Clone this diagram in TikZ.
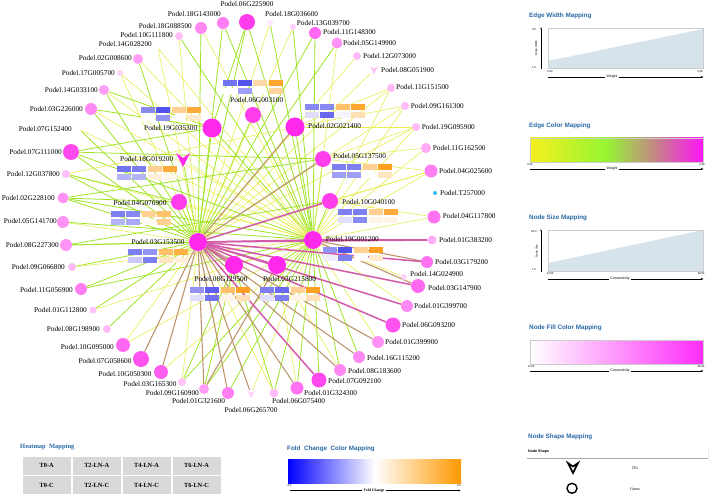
\documentclass[tikz,border=0pt]{standalone}
\usepackage{fontspec}
\setmainfont{Liberation Serif}
\newfontfamily\lsans{Liberation Sans}
\usetikzlibrary{arrows.meta}
\pgfdeclarelayer{bg}
\pgfsetlayers{bg,main}
\definecolor{pmag}{RGB}{255,40,235}
\definecolor{eY}{RGB}{232,238,80}
\definecolor{eG}{RGB}{160,228,40}
\definecolor{eB}{RGB}{190,150,110}
\definecolor{eM}{RGB}{212,90,170}
\definecolor{ttl}{RGB}{40,105,165}
\definecolor{hb}{RGB}{40,40,235}
\definecolor{ho}{RGB}{255,150,10}
\definecolor{chartfill}{RGB}{214,227,234}
\definecolor{cmY}{RGB}{245,240,30}
\definecolor{cmG}{RGB}{150,245,50}
\definecolor{cmB}{RGB}{195,135,135}
\definecolor{cmM}{RGB}{255,20,245}
\definecolor{fcB}{RGB}{0,0,255}
\definecolor{fcO}{RGB}{255,153,0}
\definecolor{nfM}{RGB}{255,45,250}
\pgfdeclarehorizontalshading{ecmap}{100bp}{color(0bp)=(cmY);color(25bp)=(cmY);color(47bp)=(cmG);color(61bp)=(cmB);color(75bp)=(cmM);color(100bp)=(cmM)}
\pgfdeclarehorizontalshading{fcmap}{100bp}{color(0bp)=(fcB);color(25bp)=(fcB);color(50bp)=(white);color(75bp)=(fcO);color(100bp)=(fcO)}
\pgfdeclarehorizontalshading{nfmap}{100bp}{color(0bp)=(white);color(25bp)=(white);color(75bp)=(nfM);color(100bp)=(nfM)}
\tikzset{
  gnd/.style={circle,inner sep=0pt},
  lbl/.style={inner sep=0pt,font=\fontsize{7.3}{8}\selectfont},
  ey/.style={eY,line width=0.6pt},
  eg/.style={eG,line width=0.8pt},
  eb/.style={eB,line width=1.1pt},
  em/.style={eM,line width=1.5pt},
  ttlsty/.style={inner sep=0pt,anchor=west,text=ttl,font=\lsans\bfseries\fontsize{6.3}{7}\selectfont},
  tiny/.style={inner sep=0pt,font=\lsans\fontsize{2.8}{3}\selectfont},
  axlbl/.style={inner sep=1pt,fill=white,font=\lsans\fontsize{3.5}{4}\selectfont},
  cell/.style={fill=black!15,inner sep=0pt,minimum width=48pt,minimum height=18pt,font=\bfseries\fontsize{6.3}{7}\selectfont}
}
\newcommand\netnode[5]{\node[gnd,minimum size=#4*2pt,fill=pmag!#5!white] (n#1) at (#2,#3) {};}
\newcommand\labW[3]{\node[lbl,anchor=west] (l#1) at (#2,#3) {Podel.#1};}
\newcommand\labE[3]{\node[lbl,anchor=east] (l#1) at (#2,#3) {Podel.#1};}
\newcommand\labC[3]{\node[lbl] (l#1) at (#2,#3) {Podel.#1};}
\newcommand\tfnode[5]{\node[inner sep=0pt,minimum size=#4*2pt] (n#1) at (#2,#3) {};
  \fill[#5] (n#1.center) ++(-#4,-#4) -- ++(#4,0.7*#4) -- ++(#4,-0.7*#4) -- ++(-#4,2*#4) -- cycle;}
\newcommand\hmap[3]{%
  \foreach \cc [count=\ii from 0] in {#3} {%
    \pgfmathsetmacro\hx{#1+mod(\ii,4)*15.3}%
    \pgfmathsetmacro\hy{#2+int(\ii/4)*7.6}%
    \fill[fill=\cc] (\hx,\hy) rectangle ++(14,6.3);}}
\begin{document}
\begin{tikzpicture}[x=1pt,y=-1pt]
\useasboundingbox (0,0) rectangle (709,497);
% ---------------- network nodes
\netnode{06G225900}{247}{22}{8}{90}
\netnode{18G143000}{223}{23}{6}{60}
\netnode{18G088500}{201}{28}{6}{55}
\netnode{10G111800}{179}{36}{4}{30}
\netnode{14G028200}{158}{48}{1.2}{3}
\netnode{02G008600}{138}{59}{5}{45}
\netnode{17G005700}{120}{73}{3}{22}
\netnode{14G033100}{104}{90}{5}{45}
\netnode{03G226000}{91}{109}{6}{55}
\netnode{07G152400}{80}{130}{1.2}{3}
\netnode{07G111000}{71}{152}{8}{85}
\netnode{12G037800}{66}{174}{4}{30}
\netnode{02G228100}{63}{198}{5.5}{50}
\netnode{05G141700}{63}{222}{6}{50}
\netnode{08G227300}{66}{245}{6}{50}
\netnode{09G066800}{72}{267}{4}{32}
\netnode{11G056900}{81}{289}{6}{60}
\netnode{01G112800}{93}{310}{3.5}{28}
\netnode{08G198900}{107}{329}{4}{32}
\netnode{10G095000}{123}{345}{7}{70}
\netnode{07G058600}{141}{359}{8}{80}
\netnode{10G050300}{161}{372}{7}{75}
\netnode{03G165300}{182}{382}{4}{28}
\netnode{09G160900}{204}{389}{5}{45}
\netnode{01G321600}{228}{393}{6}{60}
\netnode{06G075400}{274}{393}{4.5}{30}
\netnode{01G324300}{297}{388}{6.5}{65}
\netnode{07G092100}{319}{380}{7.5}{85}
\netnode{08G183600}{340}{370}{6}{55}
\netnode{16G115200}{359}{357}{6}{55}
\netnode{01G399900}{378}{342}{6}{50}
\netnode{06G093200}{393}{325}{7.5}{80}
\netnode{01G399700}{407}{306}{6}{55}
\netnode{03G147900}{418}{286}{7}{70}
\netnode{14G024900}{404}{277}{3}{20}
\netnode{03G179200}{427}{262}{6}{65}
\netnode{01G383200}{432}{240}{4.5}{38}
\netnode{04G117800}{434}{217}{6.5}{65}
\node[gnd,minimum size=4pt,fill=cyan!80!white] (nT257000) at (435,193) {};
\netnode{04G025600}{431}{171}{6.5}{60}
\netnode{11G162500}{426}{148}{5}{40}
\netnode{19G095900}{416}{127}{4}{32}
\netnode{09G161300}{405}{106}{4}{32}
\netnode{11G151500}{391}{88}{4}{32}
\netnode{12G073000}{357}{56}{4}{32}
\netnode{05G149900}{337}{43}{5.5}{50}
\netnode{11G148300}{315}{33}{6}{70}
\netnode{13G039700}{293}{27}{3}{22}
\netnode{18G036600}{270}{23}{3}{12}
% hubs
\netnode{19G035300}{212}{128}{9.5}{100}
\netnode{06G003100}{253}{115}{8}{90}
\netnode{02G021400}{295}{127}{9.5}{100}
\netnode{04G076900}{179}{202}{8}{90}
\netnode{03G153500}{198}{242}{9}{100}
\netnode{05G137500}{323}{159}{8}{90}
\netnode{10G040100}{330}{201}{8}{90}
\netnode{19G001200}{313}{240}{9}{100}
\netnode{08G129500}{234}{265}{9}{100}
\netnode{03G215800}{277}{265}{9}{100}
\tfnode{18G019200}{183}{160}{7}{pmag}
\tfnode{08G051900}{374}{70}{4}{pmag!30!white}
\tfnode{06G265700}{251}{394}{4}{pmag!22!white}
% ---------------- edges
\begin{pgfonlayer}{bg}
\fill[white] (0,0) rectangle (709,497);
\foreach \t in {06G225900,18G143000,18G088500,02G008600,14G033100,03G226000,07G152400,07G111000,12G037800,02G228100,08G227300,09G066800,11G056900,01G112800,08G198900,05G149900,11G148300,19G035300,06G003100,04G076900,18G019200}
  \draw[eg] (n03G153500) -- (n\t);
\foreach \t in {10G111800,14G028200,17G005700,05G141700,10G095000,03G165300,06G075400,04G025600,19G095900,09G161300,11G151500,08G051900,12G073000,13G039700,18G036600}
  \draw[ey] (n03G153500) -- (n\t);
\foreach \t in {06G225900,18G143000,10G111800,07G111000,02G228100,05G141700,08G227300,11G056900,03G165300,09G160900,01G321600,06G075400,01G324300,07G092100,08G183600,16G115200,11G148300,13G039700,18G036600,19G035300,02G021400,06G003100,05G137500,10G040100,08G129500,03G215800}
  \draw[eg] (n19G001200) -- (n\t);
\foreach \t in {18G088500,14G028200,02G008600,17G005700,14G033100,03G226000,07G152400,12G037800,09G066800,01G112800,10G095000,10G050300,06G265700,01G399900,01G399700,14G024900,04G117800,04G025600,11G162500,19G095900,09G161300,11G151500,05G149900,04G076900,18G019200}
  \draw[ey] (n19G001200) -- (n\t);
\foreach \t in {11G151500,09G161300,12G037800,19G095900}
  \draw[ey] (n02G021400) -- (n\t);
\foreach \t in {14G033100,03G226000,07G111000,06G225900}
  \draw[eg] (n19G035300) -- (n\t);
\foreach \t in {11G162500,04G025600,19G095900}
  \draw[ey] (n05G137500) -- (n\t);
\foreach \t in {07G111000,02G228100}
  \draw[eg] (n05G137500) -- (n\t);
\foreach \t in {04G117800,04G025600}
  \draw[ey] (n10G040100) -- (n\t);
\draw[eg] (n10G040100) -- (n08G227300);
\foreach \t in {09G160900,03G165300,06G075400}
  \draw[eg] (n08G129500) -- (n\t);
\foreach \t in {01G324300,08G183600}
  \draw[ey] (n03G215800) -- (n\t);
\draw[eb] (n03G215800) -- (n09G160900);
\foreach \t in {02G228100,12G037800}
  \draw[eg] (n04G076900) -- (n\t);
\foreach \t in {07G058600,10G050300,09G160900,01G321600,06G265700,01G324300,08G183600,16G115200,01G399900,02G021400,05G137500}
  \draw[eb] (n03G153500) -- (n\t);
\foreach \t in {03G147900,03G179200}
  \draw[eb] (n19G001200) -- (n\t);
\foreach \t in {19G001200,07G092100,06G093200,01G399700,03G147900,03G179200,01G383200,10G040100,08G129500,03G215800}
  \draw[em] (n03G153500) -- (n\t);
\draw[em] (n19G001200) -- (n01G383200);
\end{pgfonlayer}
% ---------------- heatmaps
\hmap{141}{107}{hb!55!white,hb!80!white,ho!45!white,ho!80!white,white,hb!50!white,white,ho!20!white}
\hmap{222.7}{80}{hb!65!white,hb!80!white,ho!35!white,ho!85!white,white,hb!45!white,white,ho!40!white}
\hmap{305}{104}{hb!55!white,hb!55!white,ho!60!white,ho!85!white,hb!15!white,hb!70!white,hb!5!white,ho!30!white}
\hmap{117}{166}{hb!65!white,hb!60!white,ho!45!white,ho!80!white,hb!35!white,hb!35!white,ho!15!white,ho!8!white}
\hmap{111}{211}{hb!60!white,hb!55!white,ho!45!white,ho!60!white,hb!35!white,hb!40!white,ho!5!white,ho!45!white}
\hmap{128}{249}{hb!60!white,hb!50!white,ho!60!white,ho!75!white,hb!25!white,hb!60!white,ho!25!white,ho!15!white}
\hmap{332}{164}{hb!60!white,hb!60!white,ho!45!white,ho!90!white,hb!45!white,hb!45!white,white,ho!25!white}
\hmap{338}{209}{hb!60!white,hb!60!white,ho!45!white,ho!80!white,hb!15!white,hb!55!white,ho!10!white,ho!10!white}
\hmap{323}{247}{hb!50!white,hb!80!white,ho!45!white,ho!90!white,hb!8!white,hb!60!white,white,ho!20!white}
\hmap{190}{287}{hb!50!white,hb!75!white,ho!60!white,ho!90!white,hb!15!white,hb!65!white,ho!10!white,ho!30!white}
\hmap{260}{287}{hb!60!white,hb!70!white,ho!45!white,ho!90!white,hb!15!white,hb!60!white,ho!10!white,ho!30!white}
% ---------------- labels
\labC{06G225900}{247}{4}
\labE{18G143000}{221}{14}
\labE{18G088500}{192}{25.7}
\labE{10G111800}{173}{35}
\labE{14G028200}{152}{44}
\labE{02G008600}{132}{58}
\labE{17G005700}{115}{73}
\labE{14G033100}{98}{90}
\labE{03G226000}{83}{109}
\labE{07G152400}{72}{129}
\labE{07G111000}{62}{152}
\labE{12G037800}{60}{174}
\labE{02G228100}{55}{198}
\labE{05G141700}{57}{221}
\labE{08G227300}{59}{245}
\labE{09G066800}{65}{267.3}
\labE{11G056900}{73}{290}
\labE{01G112800}{87}{310}
\labE{08G198900}{100}{329.3}
\labE{10G095000}{114}{347.3}
\labE{07G058600}{131.7}{361}
\labE{10G050300}{151.7}{374.3}
\labE{03G165300}{176.7}{384.3}
\labE{09G160900}{199}{392.7}
\labC{01G321600}{198.5}{400.7}
\labC{06G265700}{251}{410}
\labW{06G075400}{272}{401}
\labW{01G324300}{304}{393}
\labW{07G092100}{328}{381}
\labW{08G183600}{348}{371}
\labW{16G115200}{367}{358}
\labW{01G399900}{385}{342}
\labW{06G093200}{402}{325}
\labW{01G399700}{414}{306}
\labW{03G147900}{428}{288}
\labW{14G024900}{410}{274}
\labW{03G179200}{435}{262}
\labW{01G383200}{439}{240}
\labW{04G117800}{442.7}{216}
\labW{T257000}{440}{193}
\labW{04G025600}{439}{171}
\labW{11G162500}{432.7}{148}
\labW{19G095900}{421.7}{127}
\labW{09G161300}{410.7}{106}
\labW{11G151500}{396}{87.5}
\labW{08G051900}{381}{70}
\labW{12G073000}{363}{56}
\labW{05G149900}{343}{43}
\labW{11G148300}{323}{32.3}
\labW{13G039700}{296.7}{23.3}
\labW{18G036600}{265}{14}
\labC{19G035300}{170.7}{128.3}
\labC{06G003100}{256.7}{100}
\labW{02G021400}{308}{126}
\labC{18G019200}{146.7}{159.3}
\labC{04G076900}{140}{203.3}
\labC{03G153500}{158}{241.7}
\labW{05G137500}{333}{156}
\labW{10G040100}{342}{201.7}
\labW{19G001200}{325.7}{239}
\labC{08G129500}{221}{279}
\labC{03G215800}{289.5}{279}
% ---------------- Edge width legend
\node[ttlsty] (tEW) at (529,16) {Edge Width Mapping};
\fill[chartfill] (548,61) -- (703,29) -- (703,68) -- (548,68) -- cycle;
\draw[black!20,line width=0.4pt] (548,28) rectangle (703,68);
\draw[line width=0.5pt,-{Latex[length=2pt,width=1.5pt]}] (541,69) -- (541,27);
\node[tiny] at (534,30) {5.0};
\node[tiny] at (534,68) {1.0};
\node[tiny,rotate=90] at (536.5,48) {Edge Width};
\node[tiny] at (550,72) {0.20};
\node[tiny] at (700,72) {0.39};
\node[axlbl] (wEW) at (612,77) {Weight};
\draw[line width=0.5pt] (548,77) -- (wEW.west);
\draw[line width=0.5pt,-{Latex[length=3pt,width=2pt]}] (wEW.east) -- (704,77);
% ---------------- Edge color legend
\node[ttlsty] (tEC) at (529,126) {Edge Color Mapping};
\shade[shading=ecmap] (530,138) rectangle (703,162);
\draw[black!20,line width=0.4pt] (530,138) rectangle (703,162);
\node[tiny] at (530,165) {0.20};
\node[tiny] at (702,165) {0.39};
\node[axlbl] (wEC) at (612,169) {Weight};
\draw[line width=0.5pt] (530,169) -- (wEC.west);
\draw[line width=0.5pt,-{Latex[length=3pt,width=2pt]}] (wEC.east) -- (704,169);
% ---------------- Node size legend
\node[ttlsty] (tNS) at (529,218) {Node Size Mapping};
\fill[chartfill] (548,263) -- (703,230) -- (703,271) -- (548,271) -- cycle;
\draw[black!20,line width=0.4pt] (548,230) rectangle (703,271);
\draw[line width=0.5pt,-{Latex[length=2pt,width=1.5pt]}] (541,272) -- (541,229);
\node[tiny] at (534,232) {60.0};
\node[tiny] at (534,270) {1.0};
\node[tiny,rotate=90] at (536.5,251) {Node Size};
\node[tiny] at (550,274) {13.00};
\node[tiny] at (701,274) {38.00};
\node[axlbl] (wNS) at (620,279) {Connectivity};
\draw[line width=0.5pt] (548,279) -- (wNS.west);
\draw[line width=0.5pt,-{Latex[length=3pt,width=2pt]}] (wNS.east) -- (704,279);
% ---------------- Node fill legend
\node[ttlsty] (tNF) at (529,328) {Node Fill Color Mapping};
\shade[shading=nfmap] (530,340) rectangle (703,364);
\draw[black!20,line width=0.4pt] (530,340) rectangle (703,364);
\node[tiny] at (531,367) {13.00};
\node[tiny] at (701,367) {38.00};
\node[axlbl] (wNF) at (620,371) {Connectivity};
\draw[line width=0.5pt] (530,371) -- (wNF.west);
\draw[line width=0.5pt,-{Latex[length=3pt,width=2pt]}] (wNF.east) -- (704,371);
% ---------------- Heatmap legend
\node[inner sep=0pt,anchor=west,text=ttl,font=\bfseries\fontsize{6.5}{7}\selectfont] (tHM) at (20,446.7) {Heatmap\ \ Mapping};
\node[cell] (c1) at (46.7,465.7) {T0-A};
\node[cell] (c2) at (96.7,465.7) {T2-LN-A};
\node[cell] (c3) at (146.5,465.7) {T4-LN-A};
\node[cell] (c4) at (196.5,465.7) {T6-LN-A};
\node[cell] (c5) at (46.7,485.3) {T0-C};
\node[cell] (c6) at (96.7,485.3) {T2-LN-C};
\node[cell] (c7) at (146.5,485.3) {T4-LN-C};
\node[cell] (c8) at (196.5,485.3) {T6-LN-C};
% ---------------- Fold change legend
\node[ttlsty] (tFC) at (287,449) {Fold\ \ Change\ \ Color Mapping};
\shade[shading=fcmap] (288,459) rectangle (461,483);
\node[tiny] at (289,485.5) {-2.0};
\node[tiny] at (459,485.5) {2.0};
\node[axlbl,font=\bfseries\fontsize{3.8}{4}\selectfont] (wFC) at (374,490.5) {Fold Change};
\draw[line width=0.5pt] (290,490.5) -- (wFC.west);
\draw[line width=0.5pt,-{Latex[length=3pt,width=2pt]}] (wFC.east) -- (461,490.5);
% ---------------- Node shape legend
\node[ttlsty] (tSH) at (528,437) {Node Shape Mapping};
\fill[black!8] (527,447) rectangle (709,459);
\fill[white] (527,446) rectangle (708,458);
\draw[black!35,line width=0.6pt] (527,458.3) -- (708,458.3);
\node[inner sep=0pt,anchor=west,font=\lsans\bfseries\fontsize{3.6}{4}\selectfont] (hSH) at (528,452) {Node Shape};
\node[inner sep=0pt,minimum size=10pt] (sTF) at (573,468) {};
\draw[line width=1.6pt,line join=miter,fill=white] (sTF.center) ++(-5,-5) -- ++(5,3.5) -- ++(5,-3.5) -- ++(-5,10) -- cycle;
\node[inner sep=0pt,font=\fontsize{4}{5}\selectfont] (tTF) at (635,468) {TFs};
\node[circle,draw,line width=1.4pt,minimum size=10pt,inner sep=0pt] (sGN) at (572,488.3) {};
\node[inner sep=0pt,font=\fontsize{4}{5}\selectfont] (tGN) at (635,489) {Genes};
\end{tikzpicture}
\end{document}
